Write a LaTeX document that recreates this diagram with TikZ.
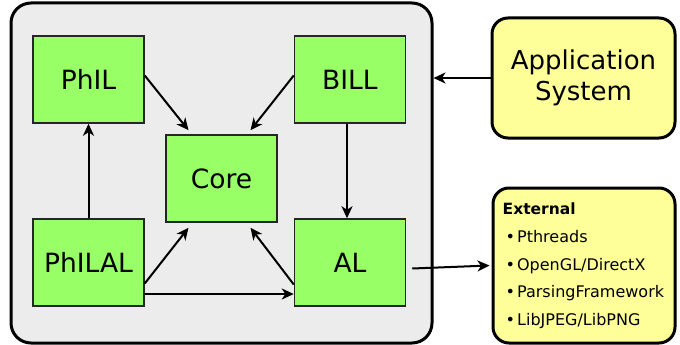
\documentclass[tikz,border=0pt]{standalone}
\usepackage{fontspec}
\setmainfont{DejaVu Sans}
\usetikzlibrary{arrows.meta}
\definecolor{modgreen}{RGB}{153,255,102}
\definecolor{extyellow}{RGB}{255,255,153}
\definecolor{sysgray}{RGB}{236,236,236}
\begin{document}
\begin{tikzpicture}[x=1pt, y=-1pt,
	module/.style={draw=black!85, line width=1.5pt, fill=modgreen, minimum width=111pt, minimum height=87pt, inner sep=0pt, font=\fontsize{26.5}{30}\selectfont},
	outer/.style={draw=black, line width=3pt, fill=extyellow, rounded corners=16pt, inner sep=0pt},
	dep/.style={-{Stealth[length=12pt,width=11pt,inset=3.5pt]}, line width=2pt},
	item/.style={anchor=base west, inner sep=0pt, font=\fontsize{16}{18}\selectfont}]
	\useasboundingbox (0,0) rectangle (680,345);
	\node [draw=black, line width=3pt, fill=sysgray, rounded corners=20pt, minimum width=421pt, minimum height=340pt] (sys) at (221.5,173) {};
	\node [module] (PhIL) at (88.5,79.5) {PhIL};
	\node [module] (BILL) at (350,79.5) {BILL};
	\node [module] (Core) at (221.5,178.5) {Core};
	\node [module] (PhILAL) at (88.5,262.5) {PhILAL};
	\node [module] (AL) at (350,262.5) {AL};
	\node [outer, minimum width=183pt, minimum height=120pt, align=center, font=\fontsize{26}{31}\selectfont] (app) at (583.5,78) {Application\\System};
	\node [outer, minimum width=182pt, minimum height=155pt] (ext) at (584,265.5) {};
	\node [item, font=\fontsize{15.5}{18}\selectfont\bfseries] (exttitle) at (502.5,214) {External};
	\node [item] (extA) at (505.5,242.7) {\textbullet\hspace{2pt}Pthreads};
	\node [item] (extB) at (505.5,270) {\textbullet\hspace{2pt}OpenGL/DirectX};
	\node [item] (extC) at (505.5,297) {\textbullet\hspace{2pt}ParsingFramework};
	\node [item] (extD) at (505.5,325) {\textbullet\hspace{2pt}LibJPEG/LibPNG};
	\draw[dep] ([yshift=4pt]PhIL.east) -- ([xshift=-33pt,yshift=4pt]Core.north);
	\draw[dep] ([yshift=4pt]BILL.west) -- ([xshift=29pt,yshift=4pt]Core.north);
	\draw[dep] ([yshift=-21pt]PhILAL.east) -- ([xshift=-33pt,yshift=-5pt]Core.south);
	\draw[dep] ([yshift=-22pt]AL.west) -- ([xshift=29pt,yshift=-5pt]Core.south);
	\draw[dep] ([yshift=-31.5pt]PhILAL.east) -- ([yshift=-31.5pt]AL.west);
	\draw[dep] (PhILAL.north) -- (PhIL.south);
	\draw[dep] ([xshift=-3pt]BILL.south) -- ([xshift=-3pt]AL.north);
	\draw[dep] (app.west) -- (app.west -| sys.east);
	\draw[dep] ([xshift=6pt,yshift=-6pt]AL.east) -- ([xshift=-2pt]ext.west);
\end{tikzpicture}
\end{document}
